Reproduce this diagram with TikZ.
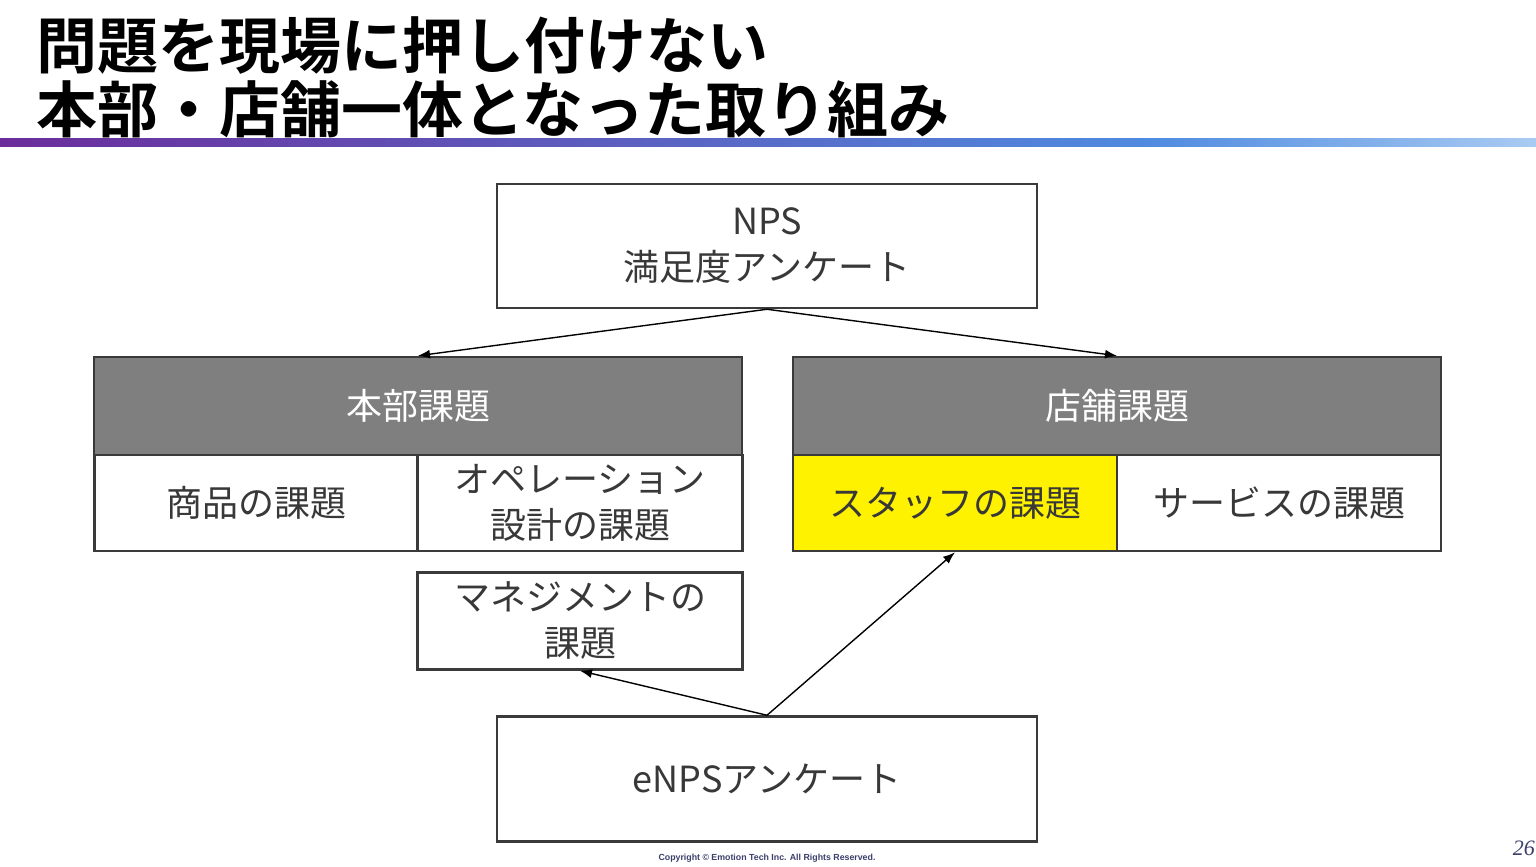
\documentclass[tikz,border=0pt]{standalone}
\usepackage{fontspec}
\setmainfont{Noto Sans CJK JP}[BoldFont={Noto Sans CJK JP Bold}]
\newfontfamily\copyfont{Liberation Sans}
\newfontfamily\pagefont{Liberation Serif}
\usetikzlibrary{arrows.meta}
\definecolor{boxline}{HTML}{3A3A3A}
\definecolor{boxtext}{HTML}{383838}
\definecolor{headgray}{HTML}{7F7F7F}
\definecolor{barpurple}{HTML}{6B2D9B}
\definecolor{barblue}{HTML}{4F8BE0}
\definecolor{barlight}{HTML}{A9CBF2}
\definecolor{copyblue}{HTML}{3B3F6B}
\tikzset{
  cell/.style={draw=boxline, line width=2.5pt, fill=white, text=boxtext, align=center,
    font=\fontsize{36}{46}\selectfont, inner sep=0pt},
  head/.style={cell, fill=headgray, text=white},
  arr/.style={-{Latex[length=12pt,width=9pt]}, line width=1.4pt, black},
}
\begin{document}
\begin{tikzpicture}[x=1pt,y=-1pt]
\useasboundingbox[fill=white] (0,0) rectangle (1536,867);

\node[anchor=west, inner sep=0pt, font=\fontsize{61}{61}\bfseries] (title1) at (36,46) {問題を現場に押し付けない};
\node[anchor=west, inner sep=0pt, font=\fontsize{61}{61}\bfseries] (title2) at (36,109) {本部・店舗一体となった取り組み};
\shade[left color=barpurple, right color=barblue] (0,138) rectangle (1150,146);
\shade[left color=barblue, right color=barlight] (1150,138) rectangle (1536,146);

\node[cell, minimum width=540pt, minimum height=124pt] (nps) at (767,246) {NPS\\満足度アンケート};

\node[head, minimum width=648pt, minimum height=98pt] (hq) at (418,406) {本部課題};
\node[cell, minimum width=323pt, minimum height=96pt] (goods) at (256,503) {商品の課題};
\node[cell, minimum width=325pt, minimum height=96pt] (ops) at (580,503) {オペレーション\\設計の課題};

\node[head, minimum width=648pt, minimum height=98pt] (store) at (1117,406) {店舗課題};
\node[cell, fill=yellow, minimum width=324pt, minimum height=96pt] (staff) at (955,503) {スタッフの課題};
\node[cell, minimum width=324pt, minimum height=96pt] (service) at (1279,503) {サービスの課題};

\node[cell, minimum width=325pt, minimum height=97pt] (mgmt) at (580,621) {マネジメントの\\課題};
\node[cell, minimum width=540pt, minimum height=125pt] (enps) at (767,779) {eNPSアンケート};

\draw[arr] (nps.south) -- (hq.north);
\draw[arr] (nps.south) -- (store.north);
\draw[arr] (enps.north) -- (mgmt.south);
\draw[arr] (enps.north) -- (staff.south);

\node[inner sep=0pt, text=copyblue, font=\copyfont\fontsize{8.8}{9}\bfseries\selectfont] (copy) at (767,858) {Copyright © Emotion Tech Inc. All Rights Reserved.};
\node[anchor=east, inner sep=0pt, text=copyblue, font=\pagefont\fontsize{22}{22}\itshape\selectfont] (page) at (1535,848) {26};
\end{tikzpicture}
\end{document}
